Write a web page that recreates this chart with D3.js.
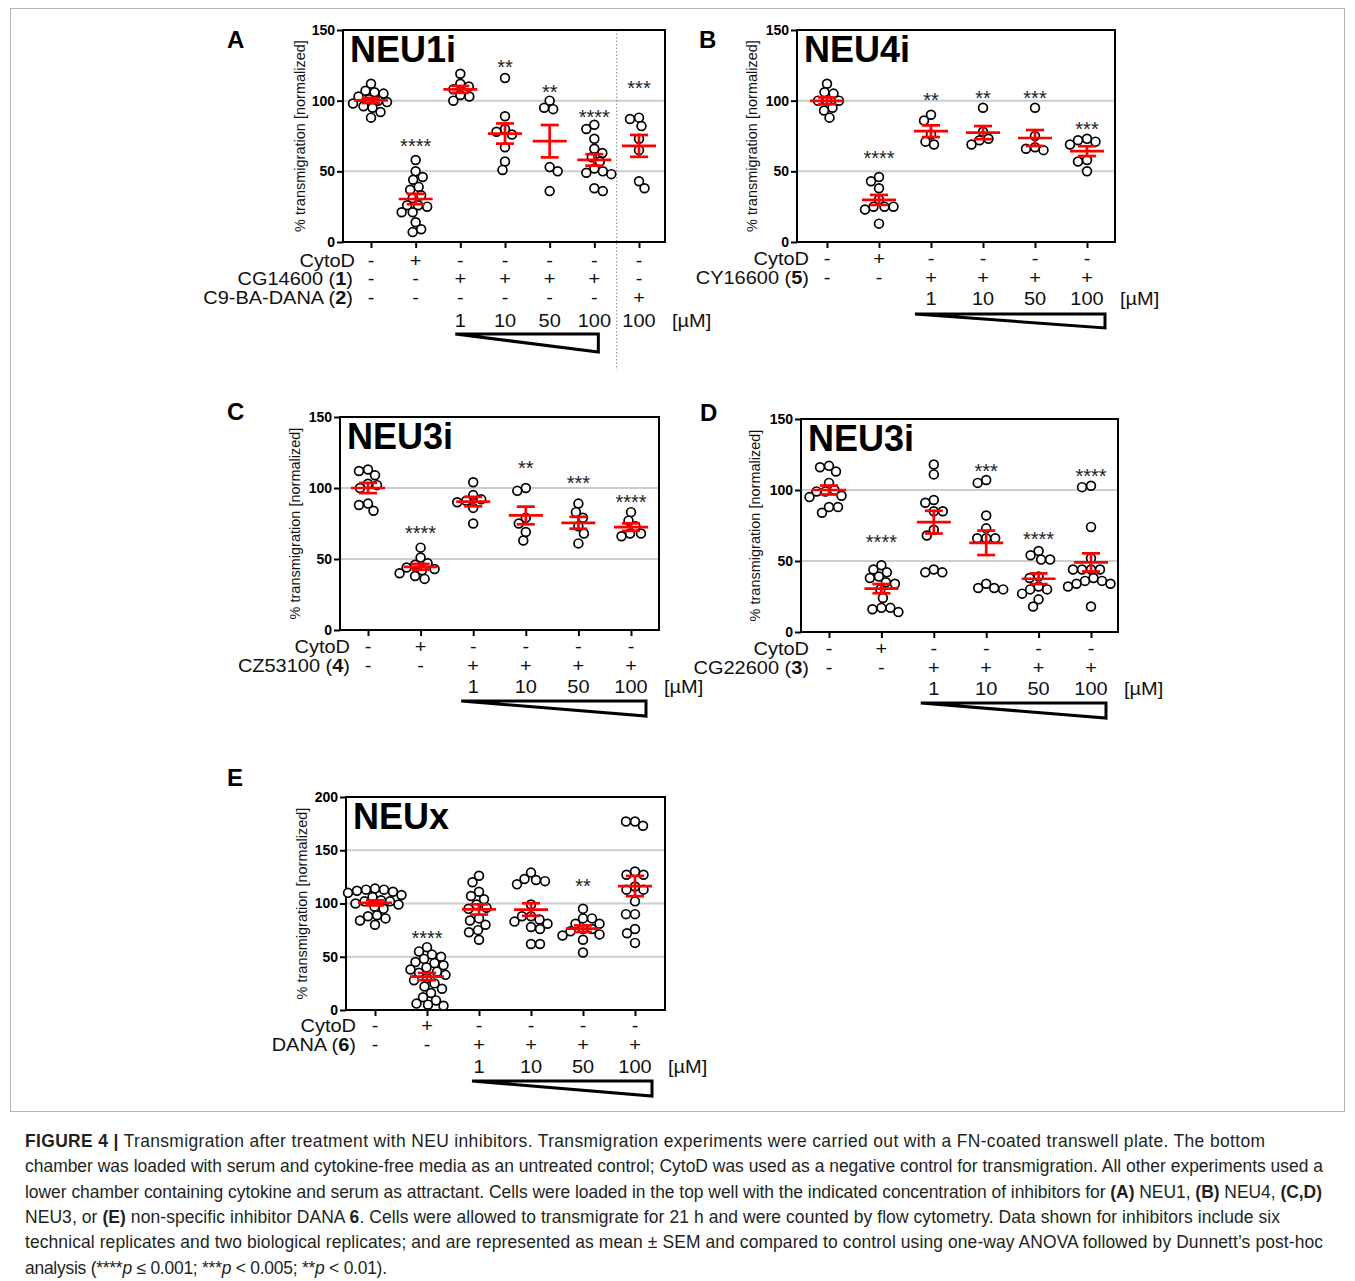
<!DOCTYPE html>
<html><head><meta charset="utf-8">
<script src="https://cdn.jsdelivr.net/npm/d3@7"></script>
<style>
body{margin:0;background:#fff}
svg{display:block}
text{font-family:"Liberation Sans",Arial,Helvetica,sans-serif}
</style>
</head><body>
<svg id="fig" width="1355" height="1281"></svg>
<script>
// ---------------- DATA ----------------
// Panel A: NEU1i
const neu1Values = [
  [112, 107, 106, 105, 103, 101, 100, 99, 98, 96, 95, 92, 88],
  [58, 50, 46, 44, 39, 37, 33, 31, 26, 26, 25, 21, 21, 14, 9, 7],
  [119, 112, 110, 108, 104, 103, 100],
  [116, 89, 80, 78, 76, 67, 57, 51],
  [100, 95, 94, 53, 50, 36],
  [83, 80, 73, 66, 63, 60, 57, 52, 50, 49, 48, 38, 36],
  [88, 87, 82, 73, 65, 43, 38]
];
const neu1Stars = ["", "****", "", "**", "**", "****", "***"];
const neu1StarAt = [null, 71, null, 127, 109, 91, 112];
const neu1CytoD = ["-", "+", "-", "-", "-", "-", "-"];
const neu1Cmpd1 = ["-", "-", "+", "+", "+", "+", "-"];
const neu1Cmpd2 = ["-", "-", "-", "-", "-", "-", "+"];
const neu1Conc = ["", "", "1", "10", "50", "100", "100"];

// Panel B: NEU4i
const neu4Values = [
  [112, 106, 105, 100, 100, 100, 95, 93, 88],
  [46, 43, 38, 30, 25, 25, 25, 23, 13],
  [90, 86, 76, 71, 69],
  [95, 78, 73, 72, 69],
  [95, 75, 67, 66, 65],
  [73, 72, 71, 69, 58, 57, 50]
];
const neu4Stars = ["", "****", "**", "**", "***", "***"];
const neu4StarAt = [null, 62, 103, 105, 105, 83];
const neu4CytoD = ["-", "+", "-", "-", "-", "-"];
const neu4Cmpd5 = ["-", "-", "+", "+", "+", "+"];
const neu4Conc = ["", "", "1", "10", "50", "100"];

// Panel C: NEU3i (CZ53100)
const neu3cValues = [
  [113, 112, 109, 103, 102, 100, 89, 88, 84],
  [58, 51, 47, 46, 44, 43, 42, 40, 38, 36],
  [104, 95, 92, 91, 90, 86, 75],
  [100, 98, 79, 75, 69, 63],
  [89, 83, 79, 73, 68, 61],
  [83, 77, 73, 68, 68, 66]
];
const neu3cStars = ["", "****", "", "**", "***", "****"];
const neu3cStarAt = [null, 71, null, 117, 106, 93];
const neu3cCytoD = ["-", "+", "-", "-", "-", "-"];
const neu3cCmpd4 = ["-", "-", "+", "+", "+", "+"];
const neu3cConc = ["", "", "1", "10", "50", "100"];

// Panel D: NEU3i (CG22600)
const neu3dValues = [
  [117, 116, 113, 105, 100, 99, 99, 96, 95, 88, 88, 84],
  [47, 44, 42, 39, 38, 35, 34, 30, 24, 17, 17, 16, 14],
  [118, 111, 93, 91, 85, 85, 72, 68, 44, 42, 42],
  [107, 105, 82, 73, 66, 66, 66, 34, 31, 31, 30],
  [57, 54, 51, 51, 39, 38, 32, 30, 30, 27, 23, 18],
  [103, 102, 74, 52, 44, 44, 44, 44, 38, 36, 36, 34, 34, 32, 18]
];
const neu3dStars = ["", "****", "", "***", "****", "****"];
const neu3dStarAt = [null, 66, null, 116, 68, 113];
const neu3dCytoD = ["-", "+", "-", "-", "-", "-"];
const neu3dCmpd3 = ["-", "-", "+", "+", "+", "+"];
const neu3dConc = ["", "", "1", "10", "50", "100"];

// Panel E: NEUx (DANA)
const neuxValues = [
  [114, 113, 113, 112, 111, 110, 108, 106, 103, 102, 102, 100, 99, 97, 95, 89, 88, 86, 84, 80],
  [59, 55, 52, 50, 48, 45, 44, 42, 40, 38, 36, 35, 33, 30, 28, 25, 22, 20, 16, 12, 9, 6, 5, 4],
  [126, 120, 111, 107, 104, 99, 96, 95, 86, 84, 80, 75, 73, 66],
  [129, 123, 122, 121, 118, 99, 88, 88, 85, 83, 81, 78, 76, 62, 62],
  [95, 86, 86, 81, 81, 76, 76, 74, 71, 70, 66, 54],
  [177, 177, 173, 130, 127, 127, 116, 113, 113, 102, 90, 90, 76, 72, 63]
];
const neuxStars = ["", "****", "", "", "**", ""];
const neuxStarAt = [null, 71, null, null, 120, null];
const neuxCytoD = ["-", "+", "-", "-", "-", "-"];
const neuxCmpd6 = ["-", "-", "+", "+", "+", "+"];
const neuxConc = ["", "", "1", "10", "50", "100"];

const ticks150 = [0, 50, 100, 150];
const ticks200 = [0, 50, 100, 150, 200];
const grid150 = [50, 100];
const grid200 = [50, 100, 150];

const captionLines = [
  [["FIGURE 4 |", "b"], [" Transmigration after treatment with NEU inhibitors. Transmigration experiments were carried out with a FN-coated transwell plate. The bottom", ""]],
  [["chamber was loaded with serum and cytokine-free media as an untreated control; CytoD was used as a negative control for transmigration. All other experiments used a", ""]],
  [["lower chamber containing cytokine and serum as attractant. Cells were loaded in the top well with the indicated concentration of inhibitors for ", ""], ["(A)", "b"], [" NEU1, ", ""], ["(B)", "b"], [" NEU4, ", ""], ["(C,D)", "b"]],
  [["NEU3, or ", ""], ["(E)", "b"], [" non-specific inhibitor DANA ", ""], ["6", "b"], [". Cells were allowed to transmigrate for 21 h and were counted by flow cytometry. Data shown for inhibitors include six", ""]],
  [["technical replicates and two biological replicates; and are represented as mean \u00B1 SEM and compared to control using one-way ANOVA followed by Dunnett\u2019s post-hoc", ""]],
  [["analysis (****", ""], ["p", "i"], [" \u2264 0.001; ***", ""], ["p", "i"], [" < 0.005; **", ""], ["p", "i"], [" < 0.01).", ""]]
];
const captionWidths = [1240, 1298, 1297, 1255, 1298, 362];

// ---------------- DRAWING ----------------
const svg = d3.select("#fig");
const FONT = '"Liberation Sans",Arial,Helvetica,sans-serif';
const STRETCH = 1.11;   // the source figure's labels are slightly wide

// figure frame
svg.append("rect").attr("x", 10.5).attr("y", 8.5).attr("width", 1334).attr("height", 1103)
  .attr("fill", "none").attr("stroke", "#b5b5b5").attr("stroke-width", 1);

function swarm(vals, y, minDist) {
  const pts = vals.map((v, i) => ({ v, i, py: y(v) })).sort((a, b) => a.py - b.py);
  const placed = [];
  pts.forEach((p, k) => {
    let chosen = 0;
    const sgn = k % 2 === 0 ? 1 : -1;
    for (let o = 0; o < 60; o += 0.5) {
      let found = false;
      for (const s of [sgn, -sgn]) {
        const off = o * s;
        const ok = placed.every(q => Math.hypot(q.ox - off, q.py - p.py) >= minDist);
        if (ok) { chosen = off; found = true; break; }
      }
      if (found) break;
    }
    p.ox = chosen;
    placed.push(p);
  });
  return pts;
}

// horizontally stretched text; parts = [[string, bold], ...]
function wideText(g, parts, x, y, size, anchor) {
  const t = g.append("text")
    .attr("transform", `translate(${x},${y}) scale(${STRETCH},1)`)
    .attr("text-anchor", anchor).attr("font-size", size).attr("fill", "#111");
  parts.forEach(([s, b]) => t.append("tspan").text(s).attr("font-weight", b ? "bold" : null));
  return t;
}

function drawPanel(p) {
  const g = svg.append("g");
  const y = d3.scaleLinear().domain([0, p.yMax]).range([p.y1, p.y0]);
  const x = d3.scalePoint().domain(d3.range(p.values.length)).range([p.first, p.last]);

  // grid
  g.selectAll(".grid").data(p.grid).join("line")
    .attr("x1", p.x0).attr("x2", p.x1).attr("y1", d => y(d)).attr("y2", d => y(d))
    .attr("stroke", "#cdcdcd").attr("stroke-width", 2);

  // separator (panel A)
  if (p.sepAfter != null) {
    const sx = (x(p.sepAfter) + x(p.sepAfter + 1)) / 2;
    g.append("line").attr("x1", sx).attr("x2", sx).attr("y1", p.y0).attr("y2", p.sepBottom)
      .attr("stroke", "#888").attr("stroke-width", 1).attr("stroke-dasharray", "1.5,2");
  }

  // frame
  g.append("rect").attr("x", p.x0).attr("y", p.y0).attr("width", p.x1 - p.x0).attr("height", p.y1 - p.y0)
    .attr("fill", "none").attr("stroke", "#000").attr("stroke-width", 2);

  // y axis
  const ya = g.append("g").attr("transform", `translate(${p.x0},0)`)
    .call(d3.axisLeft(y).tickValues(p.ticks).tickSize(6).tickSizeOuter(0).tickPadding(2));
  ya.select(".domain").remove();
  ya.attr("font-family", FONT);
  ya.selectAll("line").attr("stroke-width", 2).attr("stroke", "#000");
  ya.selectAll("text").attr("font-size", 14).attr("font-weight", "bold").attr("fill", "#000");

  // x axis ticks
  const xa = g.append("g").attr("transform", `translate(0,${p.y1})`)
    .call(d3.axisBottom(x).tickSize(6).tickSizeOuter(0).tickFormat(""));
  xa.select(".domain").remove();
  xa.selectAll("line").attr("stroke-width", 2).attr("stroke", "#000");

  // y axis title
  g.append("text").attr("transform", `translate(${p.x0 - p.titleDx},${(p.y0 + p.y1) / 2}) rotate(-90)`)
    .attr("text-anchor", "middle").attr("font-size", 14.5).attr("fill", "#111")
    .attr("dy", "0.35em").text("% transmigration [normalized]");

  // panel title
  g.append("text").attr("x", p.x0 + 7).attr("y", p.y0 + 32).attr("font-size", 36)
    .attr("font-weight", "bold").attr("fill", "#000").text(p.title);

  // panel letter
  g.append("text").attr("x", p.letterX).attr("y", p.letterY).attr("font-size", 24)
    .attr("font-weight", "bold").attr("fill", "#000").text(p.letter);

  // points
  p.values.forEach((vals, gi) => {
    const pts = swarm(vals, y, 8.8);
    g.append("g").selectAll("circle").data(pts).join("circle")
      .attr("cx", d => x(gi) + d.ox).attr("cy", d => d.py).attr("r", 4.4)
      .attr("fill", "#fff").attr("stroke", "#000").attr("stroke-width", 1.7);
  });

  // mean +/- SEM
  p.values.forEach((vals, gi) => {
    const m = d3.mean(vals);
    const sem = d3.deviation(vals) / Math.sqrt(vals.length);
    const cx = x(gi);
    const eg = g.append("g").attr("stroke", "#ff0000").attr("stroke-width", 2.7);
    eg.append("line").attr("x1", cx - 17).attr("x2", cx + 17).attr("y1", y(m)).attr("y2", y(m));
    eg.append("line").attr("x1", cx).attr("x2", cx).attr("y1", y(m - sem)).attr("y2", y(m + sem));
    eg.append("line").attr("x1", cx - 9).attr("x2", cx + 9).attr("y1", y(m + sem)).attr("y2", y(m + sem));
    eg.append("line").attr("x1", cx - 9).attr("x2", cx + 9).attr("y1", y(m - sem)).attr("y2", y(m - sem));
  });

  // significance stars
  p.stars.forEach((s, gi) => {
    if (!s) return;
    g.append("text").attr("x", x(gi)).attr("y", y(p.starAt[gi]) + 11).attr("text-anchor", "middle")
      .attr("font-size", 20).attr("fill", "#222").text(s);
  });

  // condition rows
  p.rows.forEach((r, ri) => {
    const ry = p.rowY + ri * p.rowGap;
    wideText(g, r.label, r.labelX != null ? r.labelX : p.labelX, ry + 6.5, 18, "end");
    r.signs.forEach((s, gi) => wideText(g, [[s, false]], x(gi), ry + 6.5, 18, "middle"));
  });

  // concentrations
  p.conc.forEach((c, gi) => {
    if (!c) return;
    wideText(g, [[c, false]], x(gi), p.concY + 6.5, 18, "middle");
  });
  wideText(g, [["[\u00B5M]", false]], x(p.values.length - 1) + 33, p.concY + 6.5, 18, "start");

  // wedge
  const tx0 = x(p.triFrom) + p.triL, tx1 = x(p.triTo) + p.triR;
  g.append("path").attr("d", `M${tx0},${p.triTop} L${tx1},${p.triTop} L${tx1},${p.triBot} Z`)
    .attr("fill", "none").attr("stroke", "#000").attr("stroke-width", 3).attr("stroke-linejoin", "miter");
}

const panels = [
  { letter: "A", title: "NEU1i", values: neu1Values, stars: neu1Stars, starAt: neu1StarAt,
    x0: 343, x1: 665, y0: 30, y1: 242, first: 371, last: 639, yMax: 150, ticks: ticks150, grid: grid150,
    titleDx: 43, letterX: 227, letterY: 48, sepAfter: 5, sepBottom: 370,
    rows: [
      { label: [["CytoD", false]], signs: neu1CytoD, labelX: 355 },
      { label: [["CG14600 (", false], ["1", true], [")", false]], signs: neu1Cmpd1 },
      { label: [["C9-BA-DANA (", false], ["2", true], [")", false]], signs: neu1Cmpd2 }
    ],
    labelX: 353, rowY: 260, rowGap: 18.5, conc: neu1Conc, concY: 320,
    triFrom: 2, triTo: 5, triL: -5, triR: 4, triTop: 334, triBot: 352 },
  { letter: "B", title: "NEU4i", values: neu4Values, stars: neu4Stars, starAt: neu4StarAt,
    x0: 797, x1: 1115, y0: 30, y1: 242, first: 827, last: 1087, yMax: 150, ticks: ticks150, grid: grid150,
    titleDx: 45, letterX: 699, letterY: 48,
    rows: [
      { label: [["CytoD", false]], signs: neu4CytoD },
      { label: [["CY16600 (", false], ["5", true], [")", false]], signs: neu4Cmpd5 }
    ],
    labelX: 809, rowY: 258, rowGap: 19.5, conc: neu4Conc, concY: 298,
    triFrom: 2, triTo: 5, triL: -16, triR: 18, triTop: 314, triBot: 328 },
  { letter: "C", title: "NEU3i", values: neu3cValues, stars: neu3cStars, starAt: neu3cStarAt,
    x0: 340, x1: 659, y0: 417, y1: 630, first: 368, last: 631, yMax: 150, ticks: ticks150, grid: grid150,
    titleDx: 45, letterX: 227, letterY: 420,
    rows: [
      { label: [["CytoD", false]], signs: neu3cCytoD },
      { label: [["CZ53100 (", false], ["4", true], [")", false]], signs: neu3cCmpd4 }
    ],
    labelX: 350, rowY: 646, rowGap: 19, conc: neu3cConc, concY: 686,
    triFrom: 2, triTo: 5, triL: -12, triR: 15, triTop: 701, triBot: 716 },
  { letter: "D", title: "NEU3i", values: neu3dValues, stars: neu3dStars, starAt: neu3dStarAt,
    x0: 801, x1: 1118, y0: 419, y1: 632, first: 829, last: 1091, yMax: 150, ticks: ticks150, grid: grid150,
    titleDx: 46, letterX: 700, letterY: 421,
    rows: [
      { label: [["CytoD", false]], signs: neu3dCytoD },
      { label: [["CG22600 (", false], ["3", true], [")", false]], signs: neu3dCmpd3 }
    ],
    labelX: 809, rowY: 648, rowGap: 19, conc: neu3dConc, concY: 688,
    triFrom: 2, triTo: 5, triL: -13, triR: 15, triTop: 703, triBot: 718 },
  { letter: "E", title: "NEUx", values: neuxValues, stars: neuxStars, starAt: neuxStarAt,
    x0: 346, x1: 665, y0: 797, y1: 1010, first: 375, last: 635, yMax: 200, ticks: ticks200, grid: grid200,
    titleDx: 44, letterX: 227, letterY: 786,
    rows: [
      { label: [["CytoD", false]], signs: neuxCytoD },
      { label: [["DANA (", false], ["6", true], [")", false]], signs: neuxCmpd6 }
    ],
    labelX: 356, rowY: 1025.5, rowGap: 19, conc: neuxConc, concY: 1066,
    triFrom: 2, triTo: 5, triL: -7, triR: 17, triTop: 1081, triBot: 1096 }
];

panels.forEach(drawPanel);

// caption: size font from a full-width line, then fine-tune each line with letter spacing
const cap = svg.append("g").attr("fill", "#231f20");
const probe = cap.append("text").attr("font-size", 16).text(captionLines[1].map(d => d[0]).join(""));
const baseW = probe.node().getComputedTextLength();
probe.remove();
const capSize = Math.max(15, Math.min(18, 16 * captionWidths[1] / baseW));
captionLines.forEach((segs, li) => {
  const t = cap.append("text").attr("x", 25).attr("y", 1147 + li * 25.3).attr("font-size", capSize);
  segs.forEach(([s, st]) => {
    const ts = t.append("tspan").text(s);
    if (st === "b") ts.attr("font-weight", "bold");
    if (st === "i") ts.attr("font-style", "italic");
  });
  const target = captionWidths[li];
  const w = t.node().getComputedTextLength();
  const n = segs.map(d => d[0]).join("").length;
  if (target && n > 1) t.attr("letter-spacing", (target - w) / (n - 1));
});
</script>
</body></html>
